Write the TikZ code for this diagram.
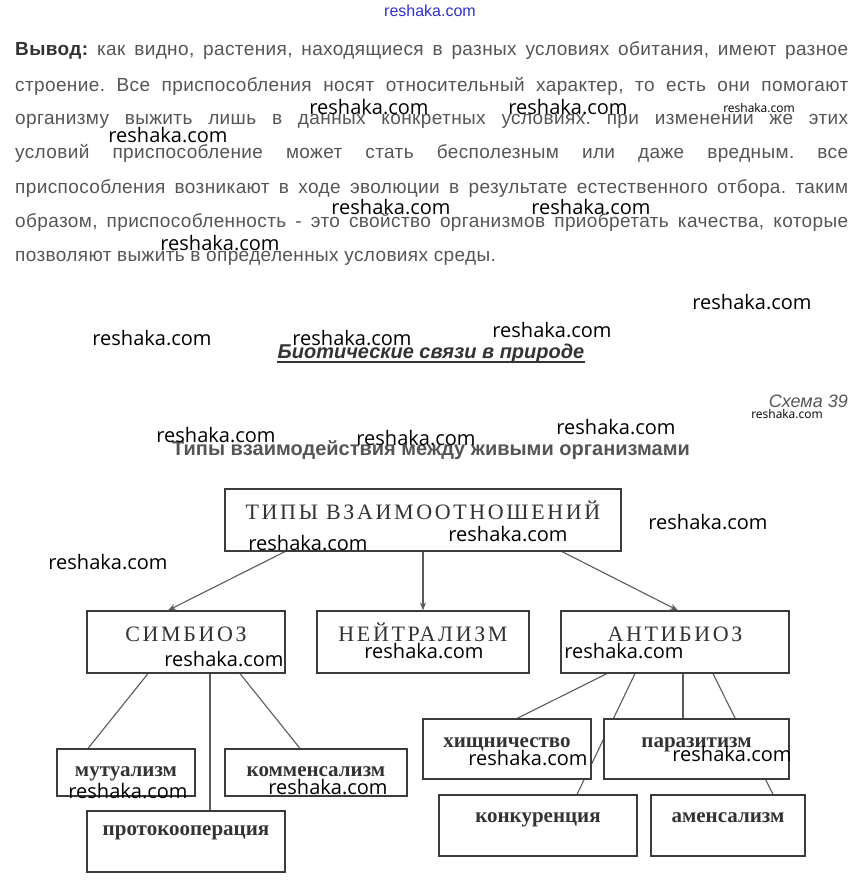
\documentclass[tikz,border=0pt]{standalone}
\usepackage{fontspec}
\setmainfont{Liberation Serif}
\setsansfont{Liberation Sans}
\newfontfamily\wmfont{Open Sans}
\usepackage{tikz}
\usetikzlibrary{arrows.meta,positioning,calc,backgrounds}
\usepackage{xcolor}
\frenchspacing
\definecolor{txtgray}{HTML}{555555}
\definecolor{darkgray}{HTML}{333333}
\definecolor{linegray}{HTML}{5A5A5A}
\definecolor{boxline}{HTML}{3C3C3C}
\definecolor{wmblue}{HTML}{3030D0}
\tikzset{
  para/.style={anchor=base west, inner sep=0pt, text=txtgray,
    font=\sffamily\fontsize{19}{19}\selectfont\addfontfeatures{LetterSpace=2}},
  box/.style={draw=boxline, line width=1.2pt, fill=white, inner sep=0pt, text=darkgray},
  bigbox/.style={box, minimum height=62pt, text height=15pt, text depth=17pt,
    font=\fontsize{22}{22}\selectfont\addfontfeatures{LetterSpace=12}},
  smallbox/.style={box, text height=10pt, font=\bfseries\fontsize{21}{21}\selectfont},
  link/.style={draw=linegray, line width=1.1pt},
  wm/.style={inner sep=0pt, font=\wmfont\fontsize{20}{20}\selectfont}
}
\begin{document}
\begin{tikzpicture}[x=1pt,y=-1pt]
  \useasboundingbox (0,0) rectangle (860,889);
  \node[inner sep=0pt, text=wmblue, font=\sffamily\fontsize{16}{16}\selectfont] (wmtop) at (430,11) {reshaka.com};
  \node[para] (par1) at (15,55) {\makebox[833pt][s]{\textbf{\color{darkgray}Вывод:} как видно, растения, находящиеся в разных условиях обитания, имеют разное}};
  \node[para] (par2) at (15,91) {\makebox[833pt][s]{строение. Все приспособления носят относительный характер, то есть они помогают}};
  \node[para] (par3) at (15,124) {\makebox[833pt][s]{организму выжить лишь в данных конкретных условиях. при изменении же этих}};
  \node[para] (par4) at (15,158) {\makebox[833pt][s]{условий приспособление может стать бесполезным или даже вредным. все}};
  \node[para] (par5) at (15,193) {\makebox[833pt][s]{приспособления возникают в ходе эволюции в результате естественного отбора. таким}};
  \node[para] (par6) at (15,227) {\makebox[833pt][s]{образом, приспособленность - это свойство организмов приобретать качества, которые}};
  \node[para] (par7) at (15,261) {позволяют выжить в определенных условиях среды.};

  \node[inner sep=0pt, text=darkgray, font=\sffamily\bfseries\itshape\fontsize{20}{20}\selectfont] (ttl) at (431,353) {Биотические связи в природе};
  \draw[line width=2.2pt, darkgray] ([yshift=-4pt]ttl.base west) -- ([yshift=-4pt]ttl.base east);
  \node[anchor=east, inner sep=0pt, text=txtgray, font=\sffamily\itshape\fontsize{18}{18}\selectfont] (sch) at (848,401) {Схема 39};
  \node[inner sep=0pt, text=txtgray, font=\sffamily\bfseries\fontsize{20}{20}\selectfont] (sub) at (431,450) {Типы взаимодействия между живыми организмами};

  \node[bigbox, minimum width=396pt] (types) at (423,520) {ТИПЫ ВЗАИМООТНОШЕНИЙ};
  \node[bigbox, minimum width=198pt] (symb) at (186,642) {СИМБИОЗ};
  \node[bigbox, minimum width=212pt] (neut) at (423,642) {НЕЙТРАЛИЗМ};
  \node[bigbox, minimum width=228pt] (anti) at (675,642) {АНТИБИОЗ};
  \node[smallbox, minimum width=138pt, minimum height=47pt, text depth=3pt] (mut) at (126,772.5) {мутуализм};
  \node[smallbox, minimum width=182pt, minimum height=47pt, text depth=3pt] (comm) at (316,772.5) {комменсализм};
  \node[smallbox, minimum width=198pt, minimum height=61pt, text depth=23pt] (proto) at (186,841.5) {протокооперация};
  \node[smallbox, minimum width=168pt, minimum height=60pt, text depth=14pt] (pred) at (507,749) {хищничество};
  \node[smallbox, minimum width=185pt, minimum height=60pt, text depth=14pt] (paras) at (696.5,749) {паразитизм};
  \node[smallbox, minimum width=198pt, minimum height=61pt, text depth=17pt] (comp) at (538,825.5) {конкуренция};
  \node[smallbox, minimum width=154pt, minimum height=61pt, text depth=17pt] (amen) at (728,825.5) {аменсализм};

  \begin{scope}[on background layer]
    \draw[link, -{Stealth[length=8pt,width=6pt]}] ([xshift=-138pt]types.south) -- ([xshift=-18pt]symb.north);
    \draw[link, -{Stealth[length=8pt,width=6pt]}] (types.south) -- (neut.north);
    \draw[link, -{Stealth[length=8pt,width=6pt]}] ([xshift=139pt]types.south) -- ([xshift=3pt]anti.north);
    \draw[link] ([xshift=-38pt]symb.south) -- ([xshift=-38pt]mut.north);
    \draw[link] ([xshift=24pt]symb.south) -- ([xshift=24pt]proto.north);
    \draw[link] ([xshift=54pt]symb.south) -- ([xshift=-16pt]comm.north);
    \draw[link] ([xshift=-68pt]anti.south) -- ([xshift=10pt]pred.north);
    \draw[link] ([xshift=-40pt]anti.south) -- ([xshift=39pt]comp.north);
    \draw[link] ([xshift=8pt]anti.south) -- ([xshift=-13.5pt]paras.north);
    \draw[link] ([xshift=38pt]anti.south) -- ([xshift=45pt]amen.north);
  \end{scope}

  \foreach \x/\y [count=\i] in {369/107,568/107,168/135,391/207,591/207,220/243,752/302,
    152/338,352/338,552/330,216/435,416/438,616/427,708/522,108/562,308/543,508/534,
    224/659,424/651,624/651,528/758,732/754,128/791,328/787}
    \node[wm] (wm\i) at (\x,\y) {reshaka.com};
  \node[wm, font=\wmfont\fontsize{12}{12}\selectfont] (wmsmall1) at (759,108) {reshaka.com};
  \node[wm, font=\wmfont\fontsize{12}{12}\selectfont] (wmsmall2) at (787,414) {reshaka.com};
\end{tikzpicture}
\end{document}
